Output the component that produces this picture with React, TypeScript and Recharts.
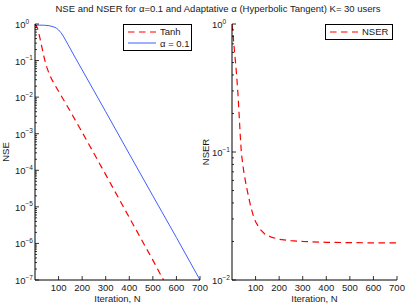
import React from 'react'
import {Legend, Line, LineChart, XAxis, YAxis} from 'recharts'

// Left panel: NSE, adaptive alpha (tanh) vs fixed alpha = 0.1
const tanhIter = [0, 10, 20, 30, 40, 50, 60, 70, 80, 100, 150, 200, 300, 400, 500, 545]
const tanhNse = [1.0, 0.794, 0.437, 0.219, 0.112, 0.0661, 0.0437, 0.0316, 0.024, 0.0145, 4.07e-3, 1.1e-3, 7.6e-5, 5.1e-6, 3.5e-7, 1.0e-7]

const fixedIter = [0, 20, 40, 60, 80, 90, 100, 110, 120, 140, 160, 200, 300, 400, 500, 600, 700]
const fixedNse = [0.93, 0.93, 0.925, 0.9, 0.83, 0.776, 0.69, 0.58, 0.468, 0.275, 0.16, 0.0557, 4.0e-3, 2.8e-4, 2.0e-5, 1.45e-6, 1.0e-7]

// Right panel: NSER
const nserIter = [0, 5, 10, 15, 20, 25, 30, 35, 40, 50, 60, 70, 80, 90, 100, 120, 140, 170, 200, 250, 300, 400, 500, 600, 700]
const nserVals = [1.0, 0.8, 0.63, 0.5, 0.39, 0.29, 0.2, 0.135, 0.097, 0.07, 0.055, 0.045, 0.037, 0.032, 0.0285, 0.0248, 0.0228, 0.0215, 0.0208, 0.0203, 0.02, 0.0197, 0.0196, 0.0195, 0.0195]

const xTicks = [100, 200, 300, 400, 500, 600, 700]
const nseDecades = [-7, -6, -5, -4, -3, -2, -1, 0]
const nserDecades = [-2, -1, 0]
const minorSteps = [2, 3, 4, 5, 6, 7, 8, 9]

const TITLE = 'NSE and NSER for α=0.1 and Adaptative α (Hyperbolic Tangent) K= 30 users'
const FONT = '"Liberation Sans", Arial, sans-serif'
const INK = '#1a1a1a'
const AXIS = {stroke: '#000', strokeWidth: 1}

type Series = {name: string; iter: number[]; vals: number[]; color: string; width: number; dash?: string}

const nseSeries: Series[] = [
	{name: 'Tanh', iter: tanhIter, vals: tanhNse, color: '#ff0000', width: 1.2, dash: '6.5 4.5'},
	{name: 'α = 0.1', iter: fixedIter, vals: fixedNse, color: '#3f5fff', width: 1},
]
const nserSeries: Series[] = [{name: 'NSER', iter: nserIter, vals: nserVals, color: '#ff0000', width: 1.2, dash: '6.5 4.5'}]

function logTicks(decades: number[]) {
	const top = decades[decades.length - 1]
	return decades.flatMap(d => [10 ** d, ...(d < top ? minorSteps.map(m => m * 10 ** d) : [])])
}

function isDecade(v: number) {
	const l = Math.log10(v)
	return Math.abs(l - Math.round(l)) < 1e-6
}

function expText(v: number) {
	const e = Math.round(Math.log10(v))
	return e < 0 ? `−${-e}` : `${e}`
}

function YTick({x, y, payload, side}: any) {
	const major = isDecade(payload.value)
	const dir = side === 'left' ? 1 : -1
	return (
		<g>
			<line x1={x} x2={x + dir * (major ? 4 : 2)} y1={y} y2={y} stroke='#000' strokeWidth={0.8} />
			{side === 'left' && major && (
				<text x={x - 20} y={y + 4} fontSize={9.5} fill={INK} fontFamily={FONT}>
					10
					<tspan dy={-4.5} fontSize={6.5}>
						{expText(payload.value)}
					</tspan>
				</text>
			)}
		</g>
	)
}

function XTick({x, y, payload, side}: any) {
	const dir = side === 'bottom' ? -1 : 1
	return (
		<g>
			<line x1={x} x2={x} y1={y} y2={y + dir * 4} stroke='#000' strokeWidth={0.8} />
			{side === 'bottom' && (
				<text x={x} y={y + 11} textAnchor='middle' fontSize={9.5} fill={INK} fontFamily={FONT}>
					{payload.value}
				</text>
			)}
		</g>
	)
}

function LegendBox({payload, width}: any) {
	return (
		<div
			style={{
				width,
				boxSizing: 'border-box',
				border: '1px solid #000',
				background: '#fff',
				padding: '1px 0 1px 4px',
				fontFamily: FONT,
				fontSize: 9.5,
				color: INK,
			}}
		>
			{(payload || []).map((e: any) => (
				<div key={e.value} style={{display: 'flex', alignItems: 'center', height: 11.5}}>
					<svg width={28} height={4} style={{display: 'block'}}>
						<line
							x1={0}
							x2={28}
							y1={2}
							y2={2}
							stroke={e.color}
							strokeWidth={e.payload?.strokeWidth ?? 1}
							strokeDasharray={e.payload?.strokeDasharray}
						/>
					</svg>
					<span style={{marginLeft: 4, whiteSpace: 'nowrap'}}>{e.value}</span>
				</div>
			))}
		</div>
	)
}

function Panel({series, decades, yLabel, legendLeft, legendWidth, yLabelX}: any) {
	const ticks = logTicks(decades)
	const domain = [10 ** decades[0], 10 ** decades[decades.length - 1]]
	return (
		<LineChart width={210} height={307} margin={{top: 24, right: 10, bottom: 0, left: 0}}>
			<XAxis
				xAxisId='b'
				type='number'
				dataKey='n'
				domain={[0, 700]}
				ticks={xTicks}
				interval={0}
				height={27}
				tickSize={0}
				tickMargin={0}
				tickLine={false}
				axisLine={AXIS}
				allowDataOverflow
				tick={(p: any) => <XTick {...p} side='bottom' />}
				label={(p: any) => (
					<text
						x={p.viewBox.x + p.viewBox.width / 2}
						y={p.viewBox.y + 21.5}
						textAnchor='middle'
						fontSize={9.5}
						fill={INK}
						fontFamily={FONT}
					>
						Iteration, N
					</text>
				)}
			/>
			<XAxis
				xAxisId='t'
				orientation='top'
				type='number'
				domain={[0, 700]}
				ticks={xTicks}
				interval={0}
				height={0}
				tickSize={0}
				tickMargin={0}
				tickLine={false}
				axisLine={AXIS}
				allowDataOverflow
				tick={(p: any) => <XTick {...p} side='top' />}
			/>
			<YAxis
				yAxisId='l'
				type='number'
				scale='log'
				domain={domain}
				ticks={ticks}
				interval={0}
				width={35}
				tickSize={0}
				tickMargin={0}
				tickLine={false}
				axisLine={AXIS}
				allowDataOverflow
				tick={(p: any) => <YTick {...p} side='left' />}
				label={(p: any) => {
					const cx = p.viewBox.x + yLabelX
					const cy = p.viewBox.y + p.viewBox.height / 2
					return (
						<text
							x={cx}
							y={cy}
							transform={`rotate(-90 ${cx} ${cy})`}
							textAnchor='middle'
							dominantBaseline='central'
							fontSize={9.5}
							fill={INK}
							fontFamily={FONT}
						>
							{yLabel}
						</text>
					)
				}}
			/>
			<YAxis
				yAxisId='r'
				orientation='right'
				type='number'
				scale='log'
				domain={domain}
				ticks={ticks}
				interval={0}
				width={0}
				tickSize={0}
				tickMargin={0}
				tickLine={false}
				axisLine={AXIS}
				allowDataOverflow
				tick={(p: any) => <YTick {...p} side='right' />}
			/>
			{series.map((s: Series) => (
				<Line
					key={s.name}
					xAxisId='b'
					yAxisId='l'
					data={s.iter.map((n, i) => ({n, v: s.vals[i]}))}
					dataKey='v'
					name={s.name}
					type='linear'
					stroke={s.color}
					strokeWidth={s.width}
					strokeDasharray={s.dash}
					dot={false}
					activeDot={false}
					isAnimationActive={false}
				/>
			))}
			<Legend
				layout='vertical'
				align='center'
				verticalAlign='middle'
				wrapperStyle={{left: legendLeft, top: 24, width: legendWidth}}
				content={(p: any) => <LegendBox payload={p.payload} width={legendWidth} />}
			/>
		</LineChart>
	)
}

export default function App() {
	return (
		<div style={{position: 'absolute', left: 0, top: 0, width: 407, height: 307, background: '#fff', fontFamily: FONT}}>
			<div style={{position: 'absolute', left: 0, top: 0}}>
				<Panel series={nseSeries} decades={nseDecades} yLabel='NSE' legendLeft={123} legendWidth={69} yLabelX={5.5} />
			</div>
			<div style={{position: 'absolute', left: 197, top: 0}}>
				<Panel series={nserSeries} decades={nserDecades} yLabel='NSER' legendLeft={128} legendWidth={68} yLabelX={8.5} />
			</div>
			<div
				style={{
					position: 'absolute',
					left: 0,
					top: 3,
					width: 436,
					textAlign: 'center',
					fontSize: 9.5,
					lineHeight: '11px',
					color: INK,
					whiteSpace: 'nowrap',
				}}
			>
				{TITLE}
			</div>
		</div>
	)
}
